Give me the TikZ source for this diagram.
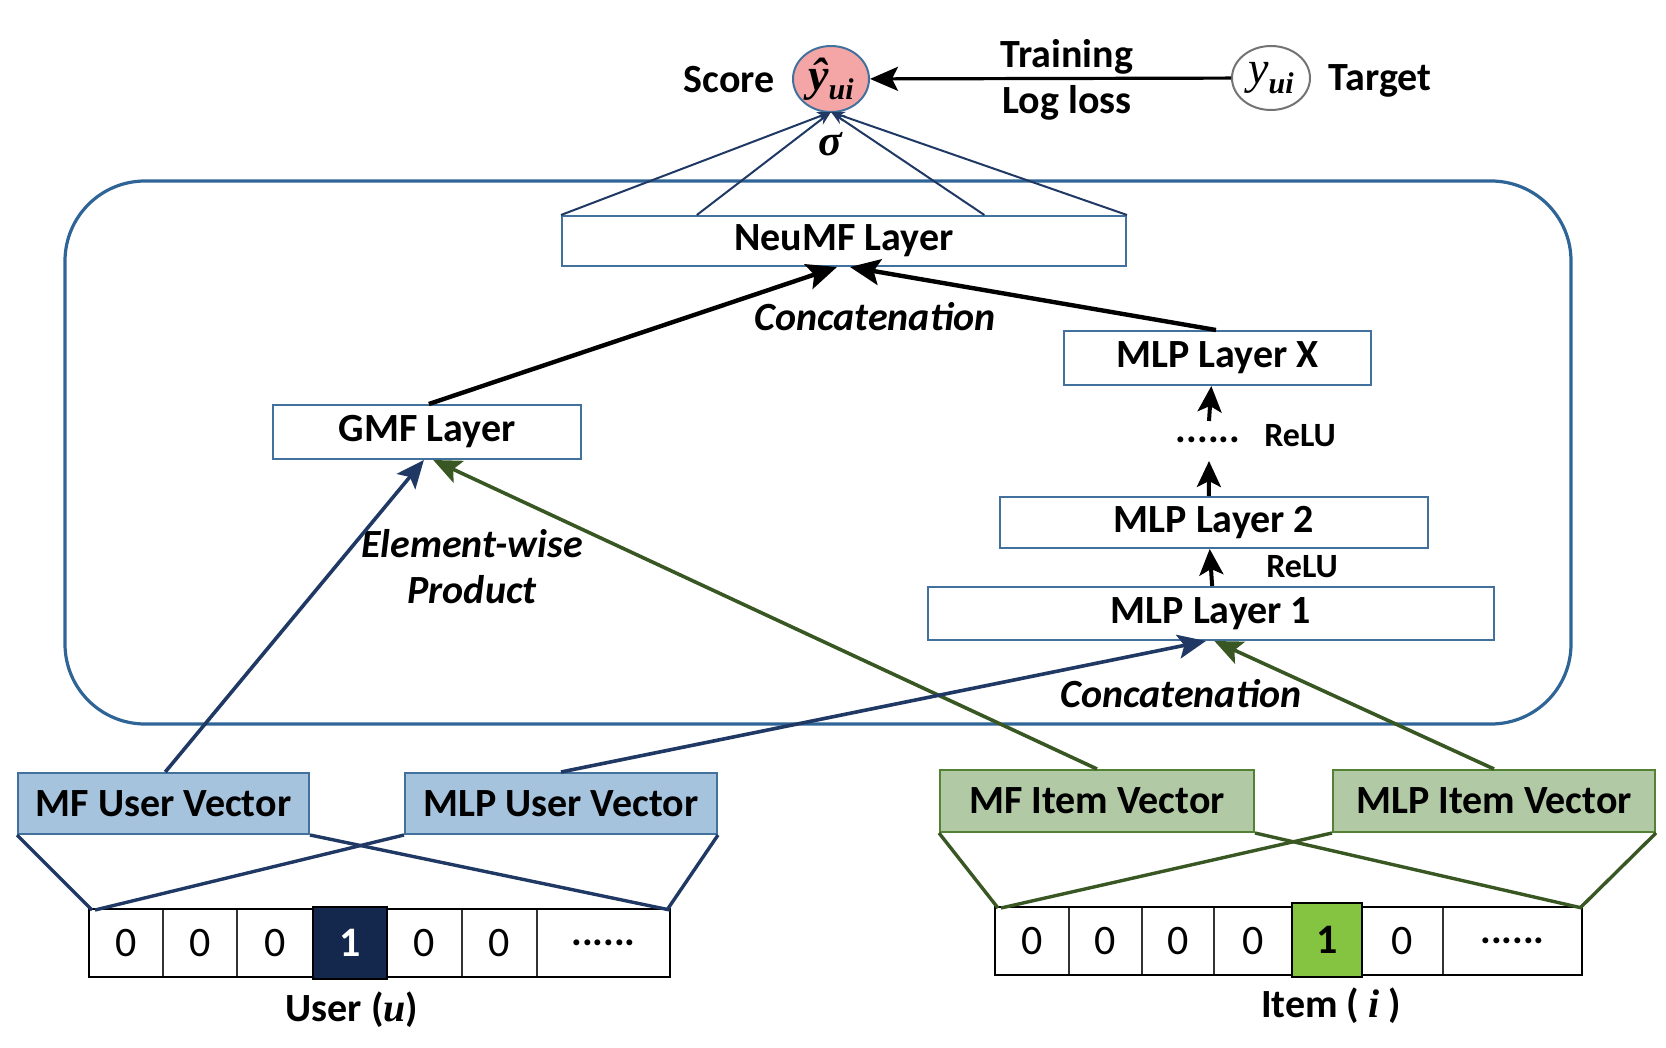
\documentclass[tikz,border=0pt]{standalone}
\usepackage{fontspec}
\setmainfont{Carlito}
\newfontfamily\tms{Liberation Serif}
\usetikzlibrary{arrows.meta,calc,shapes.geometric}
\definecolor{cNavy}{HTML}{1F3864}
\definecolor{cDark}{HTML}{14284E}
\definecolor{cFrame}{HTML}{2F6496}
\definecolor{cBoxB}{HTML}{41719C}
\definecolor{cUFill}{HTML}{A6C3DD}
\definecolor{cIFill}{HTML}{B2C9A6}
\definecolor{cGreenB}{HTML}{548235}
\definecolor{cGreenL}{HTML}{385723}
\definecolor{cCell}{HTML}{84C441}
\definecolor{cPink}{HTML}{F4A6A6}
\begin{document}
\begin{tikzpicture}[x=0.5pt,y=-0.5pt,
  txt/.style={font=\fontsize{20}{24}\selectfont\bfseries, inner sep=0pt},
  itxt/.style={font=\fontsize{20}{23}\selectfont\bfseries\itshape, inner sep=0pt},
  layer/.style={draw=cBoxB, line width=1pt, fill=white, inner sep=0pt, font=\fontsize{20}{24}\selectfont\bfseries},
  uvec/.style={draw=cBoxB, line width=1pt, fill=cUFill, inner sep=0pt, font=\fontsize{20}{24}\selectfont\bfseries},
  ivec/.style={draw=cGreenB, line width=1pt, fill=cIFill, inner sep=0pt, font=\fontsize{20}{24}\selectfont\bfseries},
  cell/.style={draw=black!80, line width=0.6pt, inner sep=0pt, outer sep=0pt, minimum height=34pt, font=\fontsize{21}{24}\selectfont},
  navyarrow/.style={draw=cNavy, line width=1.8pt, -{Stealth[length=14pt,width=12pt,inset=3pt]}},
  greenarrow/.style={draw=cGreenL, line width=1.8pt, -{Stealth[length=14pt,width=12pt,inset=3pt]}},
  blackarrow/.style={draw=black, line width=2.2pt, -{Stealth[length=15pt,width=13pt,inset=3pt]}},
  relarrow/.style={draw=black, line width=2pt, -{Stealth[length=13pt,width=12pt,inset=3pt]}},
  sigline/.style={draw=cNavy, line width=1pt, -{Stealth[length=7pt,width=5pt]}},
  navyline/.style={draw=cNavy, line width=1.7pt},
  greenline/.style={draw=cGreenL, line width=1.7pt}
]
\useasboundingbox (0,0) rectangle (1666,1048);

% container
\draw[cFrame, line width=1.6pt, rounded corners=40pt] (65,181) rectangle (1571,724);

% top
\node[txt] (score) at (729,80) {Score};
\node[ellipse, draw=cBoxB, line width=1pt, fill=cPink, minimum width=38pt, minimum height=33pt, inner sep=0pt] (yhat) at (831,79)
  {\tms\bfseries\itshape\fontsize{23}{24}\selectfont ŷ\raisebox{-0.45ex}{\fontsize{15}{16}\selectfont ui}};
\node[ellipse, draw=black!55, line width=1pt, fill=white, minimum width=39pt, minimum height=32pt, inner sep=0pt] (ytrue) at (1271,78)
  {\tms\itshape\fontsize{23}{24}\selectfont y\raisebox{-0.45ex}{\fontsize{15}{16}\selectfont\bfseries ui}};
\node[txt] (target) at (1380,81) {Target};
\node[txt] (train) at (1067,57) {Training};
\node[txt] (logloss) at (1067,103) {Log loss};
\draw[draw=black, line width=1.6pt, -{Stealth[length=14pt,width=12pt,inset=3pt]}] (ytrue) -- (yhat);
\node[inner sep=0pt] (sigma) at (830,144) {\tms\bfseries\itshape\fontsize{22}{24}\selectfont σ};

% layers
\node[layer, minimum width=282pt, minimum height=25pt] (neumf) at (844,241) {NeuMF Layer};
\node[layer, minimum width=153.5pt, minimum height=27pt] (mlpx) at (1217.5,358) {MLP Layer X};
\node[layer, minimum width=214pt, minimum height=25.5pt] (mlp2) at (1214,522.5) {MLP Layer 2};
\node[layer, minimum width=283pt, minimum height=26.5pt] (mlp1) at (1211,613.5) {MLP Layer 1};
\node[layer, minimum width=154pt, minimum height=27pt] (gmf) at (427,432) {GMF Layer};

% sigma lines
\coordinate (yb) at ($(yhat.south)+(0,-1)$);
\draw[sigline] (neumf.north west) -- (yb);
\draw[sigline] ($(neumf.north west)!0.24!(neumf.north east)$) -- (yb);
\draw[sigline] ($(neumf.north west)!0.748!(neumf.north east)$) -- (yb);
\draw[sigline] (neumf.north east) -- (yb);

% concatenation to NeuMF
\node[itxt] (concat1) at (875,317) {Concatenation};
\coordinate (nl) at ($(neumf.south)+(-7,0)$);
\coordinate (nr) at ($(neumf.south)+(6,0)$);
\draw[blackarrow] ($(gmf.north west)!0.506!(gmf.north east)$) -- (nl);
\draw[blackarrow] ($(mlpx.north west)!0.495!(mlpx.north east)$) -- (nr);

% MLP tower
\node[txt, font=\fontsize{20}{24}\selectfont\bfseries] (dots) at (1208,440) {......};
\node[txt, font=\fontsize{17}{20}\selectfont\bfseries] (relu2) at (1300,436) {ReLU};
\node[txt, font=\fontsize{17}{20}\selectfont\bfseries] (relu1) at (1302,567) {ReLU};
\coordinate (dlow) at (1209,461);
\coordinate (dhigh) at (1209,421);
\draw[relarrow] ($(mlp2.north west)!0.488!(mlp2.north east)$) -- (dlow);
\draw[relarrow] (dhigh) -- ($(mlpx.south west)!0.48!(mlpx.south east)$);
\draw[relarrow] ($(mlp1.north west)!0.502!(mlp1.north east)$) -- ($(mlp2.south west)!0.49!(mlp2.south east)$);

% Element-wise product
\node[itxt, align=center] (ewp) at (472,567) {Element-wise\\Product};
\node[itxt] (concat2) at (1181,694) {Concatenation};

% vectors
\node[uvec, minimum width=145.5pt, minimum height=30.5pt] (mfu) at (163.5,803.5) {MF User Vector};
\node[uvec, minimum width=156pt, minimum height=30.5pt] (mlpu) at (561,803.5) {MLP User Vector};
\node[ivec, minimum width=157pt, minimum height=31pt] (mfi) at (1097,801) {MF Item Vector};
\node[ivec, minimum width=161pt, minimum height=31pt] (mlpi) at (1494,801) {MLP Item Vector};

% arrows from vectors
\draw[navyarrow] ($(mfu.north west)!0.506!(mfu.north east)$) -- ($(gmf.south west)!0.49!(gmf.south east)$);
\draw[greenarrow] ($(mfi.north west)!0.5!(mfi.north east)$) -- ($(gmf.south west)!0.52!(gmf.south east)$);
\draw[navyarrow] ($(mlpu.north west)!0.5!(mlpu.north east)$) -- ($(mlp1.south west)!0.491!(mlp1.south east)$);
\draw[greenarrow] ($(mlpi.north west)!0.5!(mlpi.north east)$) -- ($(mlp1.south west)!0.506!(mlp1.south east)$);

% user one-hot
\node[cell, minimum width=37pt] (u1) at (126,943) {0};
\node[cell, minimum width=37pt] (u2) at (200,943) {0};
\node[cell, minimum width=38pt] (u3) at (275,943) {0};
\node[cell, minimum width=37.5pt] (u5) at (424.5,943) {0};
\node[cell, minimum width=37.5pt] (u6) at (499.5,943) {0};
\node[cell, minimum width=66.5pt, font=\fontsize{20}{24}\selectfont\bfseries] (u7) at (603.5,943) {......};
\draw[black, line width=1.2pt] (u1.north west) rectangle (u7.south east);
\node[cell, draw=black, line width=1pt, fill=cDark, text=white, minimum width=37pt, minimum height=36pt, font=\fontsize{21}{24}\selectfont\bfseries] (u4) at (350,943) {1};
\node[txt] (ulab) at (352,1010) {User ({\tms\bfseries\itshape u})};

% item one-hot
\node[cell, minimum width=37pt] (i1) at (1032,941) {0};
\node[cell, minimum width=36.5pt] (i2) at (1105.5,941) {0};
\node[cell, minimum width=36pt] (i3) at (1178,941) {0};
\node[cell, minimum width=39pt] (i4) at (1253,941) {0};
\node[cell, minimum width=40.5pt] (i6) at (1402.5,941) {0};
\node[cell, minimum width=69.5pt, font=\fontsize{20}{24}\selectfont\bfseries] (i7) at (1512.5,941) {......};
\draw[black, line width=1.2pt] (i1.north west) rectangle (i7.south east);
\node[cell, draw=black, line width=1pt, fill=cCell, minimum width=35pt, minimum height=37pt, font=\fontsize{21}{24}\selectfont\bfseries] (i5) at (1327,940) {1};
\node[txt] (ilab) at (1331,1006) {Item ( {\tms\bfseries\itshape i} )};

% user fan lines
\draw[navyline] (mfu.south west) -- ($(u1.north west)+(3,1)$);
\draw[navyline] (mfu.south east) -- ($(u7.north east)+(0,1)$);
\draw[navyline] (mlpu.south west) -- ($(u1.north west)+(6,1)$);
\draw[navyline] (mlpu.south east) -- ($(u7.north east)+(-3,1)$);

% item fan lines
\draw[greenline] (mfi.south west) -- ($(i1.north west)+(3,1)$);
\draw[greenline] (mfi.south east) -- ($(i7.north east)+(0,1)$);
\draw[greenline] (mlpi.south west) -- ($(i1.north west)+(6,1)$);
\draw[greenline] (mlpi.south east) -- ($(i7.north east)+(-2,1)$);
\end{tikzpicture}
\end{document}
